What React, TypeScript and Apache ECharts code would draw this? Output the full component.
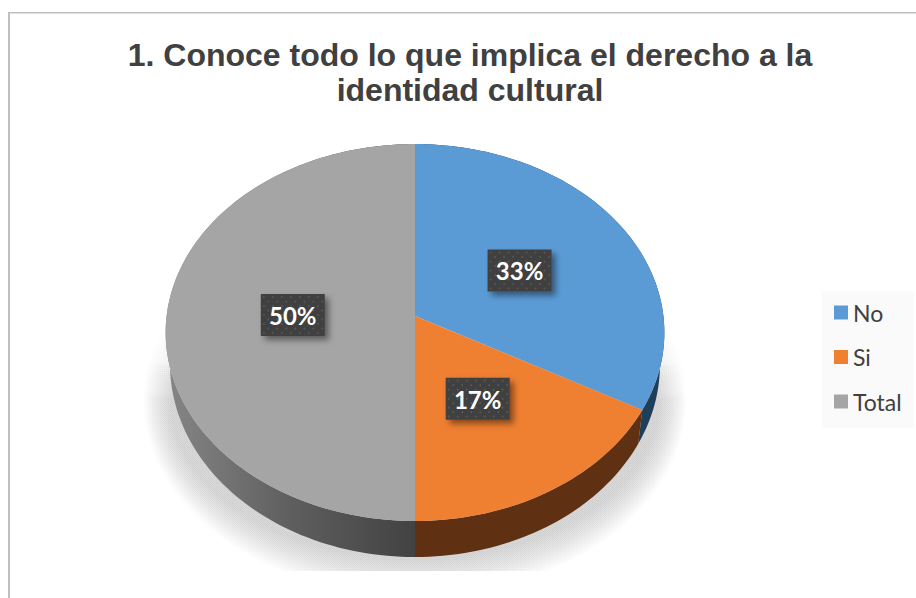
import React, { useEffect, useRef } from "react";
import * as echarts from "echarts";

const categories = ["No", "Si", "Total"];
const values = [33, 17, 50];
const topColors = ["#5B9BD5", "#EF7F31", "#A5A5A5"];
const wallColors = ["#1F3E5A", "#5F3112", "#555555"];
const titleText = "1. Conoce todo lo que implica el derecho a la\nidentidad cultural";

const total = values.reduce((a, b) => a + b, 0);
const starts = values.map((_, i) => values.slice(0, i).reduce((a, b) => a + b, 0) / total);

// perspective projection of the pie's disc
const CX = 415;
const K = 0.0876;
const topDisc = { a: 248.4, b: 187, c: 316 };
const lowDisc = { a: 244, b: 191, c: 347.7 };
const labelNudge = [[0, 1], [-3, -1], [2, -1]];

function project(disc: { a: number; b: number; c: number }, frac: number, r = 1): number[] {
  const t = frac * Math.PI * 2;
  const u = Math.sin(t) * r;
  const v = -Math.cos(t) * r;
  const w = 1 - K * v;
  return [CX + (disc.a * u) / w, disc.c + (disc.b * v) / w];
}

function arc(disc: { a: number; b: number; c: number }, from: number, to: number): number[][] {
  const n = Math.max(8, Math.round((to - from) * 240));
  const pts: number[][] = [];
  for (let i = 0; i <= n; i++) pts.push(project(disc, from + ((to - from) * i) / n));
  return pts;
}

function sliceRender(index: number) {
  return (_params: any, api: any) => {
    const value = api.value(0);
    const from = starts[index];
    const to = from + value / total;
    const children: any[] = [];
    const wallFill =
      index === 2
        ? new echarts.graphic.LinearGradient(
            170, 0, 415, 0,
            [
              { offset: 0, color: "#858585" },
              { offset: 0.5, color: "#5E5E5E" },
              { offset: 1, color: "#424242" },
            ],
            true
          )
        : wallColors[index];
    children.push({
      type: "polygon",
      z2: 6,
      shape: { points: [...arc(topDisc, from, to), ...arc(lowDisc, from, to).reverse()] },
      style: { fill: wallFill },
    });
    children.push({
      type: "polygon",
      z2: 10,
      shape: { points: [[CX, topDisc.c], ...arc(topDisc, from, to)] },
      style: { fill: topColors[index] },
    });
    const p = project(topDisc, (from + to) / 2, 0.5);
    const lx = p[0] + labelNudge[index][0];
    const ly = p[1] + labelNudge[index][1];
    const bx = lx - 32;
    const by = ly - 21;
    const bw = 64;
    const bh = 42;
    children.push({
      type: "rect",
      z2: 20,
      shape: { x: bx, y: by, width: bw, height: bh },
      style: {
        fill: "#404040",
        shadowBlur: 6,
        shadowOffsetX: 4,
        shadowOffsetY: 4,
        shadowColor: "rgba(0,0,0,0.45)",
      },
    });
    for (let row = 0; row < 9; row++) {
      for (let col = 0; col < 8; col++) {
        const dx = bx + 3 + col * 9 + (row % 2 ? 4.5 : 0);
        if (dx > bx + bw - 2) continue;
        children.push({
          type: "circle",
          z2: 21,
          shape: { cx: dx, cy: by + 3 + row * 4.5, r: 0.9 },
          style: { fill: "rgba(255,255,255,0.13)" },
        });
      }
    }
    children.push({
      type: "text",
      z2: 22,
      style: {
        x: lx,
        y: ly + 0.5,
        text: `${Math.round((value / total) * 100)}%`,
        fill: "#FFFFFF",
        font: "bold 24px Lato",
        align: "center",
        verticalAlign: "middle",
      },
    });
    return { type: "group", children };
  };
}

function shadowRender() {
  const layers = 18;
  const children: any[] = [];
  const fade = () =>
    new echarts.graphic.LinearGradient(
      0, 320, 0, 400,
      [
        { offset: 0, color: "rgba(0,0,0,0)" },
        { offset: 1, color: "rgba(0,0,0,0.011)" },
      ],
      true
    );
  for (let i = 0; i < layers; i++) {
    const t = i / (layers - 1);
    children.push({
      type: "ellipse",
      z2: 1,
      shape: { cx: CX, cy: 400, rx: 271 - 26 * t, ry: 196 - 36 * t },
      style: { fill: fade() },
    });
  }
  children.push({
    type: "rect",
    z2: 2,
    shape: { x: 11, y: 571, width: 800, height: 27 },
    style: { fill: "#FFFFFF" },
  });
  return { type: "group", children };
}

export default function App() {
  const ref = useRef<HTMLDivElement>(null);
  useEffect(() => {
    document.body.style.margin = "0";
    const chart = echarts.init(ref.current!, undefined, { renderer: "svg" });
    chart.setOption({
      animation: false,
      backgroundColor: "#FFFFFF",
      title: {
        text: titleText,
        left: 465,
        top: 32,
        textAlign: "center",
        textStyle: {
          fontFamily: "Liberation Sans",
          fontWeight: "bold",
          fontSize: 32,
          lineHeight: 35,
          color: "#404040",
        },
      },
      legend: {
        orient: "vertical",
        left: 822,
        top: 291,
        data: categories,
        icon: "rect",
        itemWidth: 14,
        itemHeight: 14,
        itemGap: 21.5,
        padding: [10, 12, 15, 12],
        backgroundColor: "#FAFAFA",
        selectedMode: false,
        textStyle: { fontFamily: "Lato", fontSize: 23, color: "#404040" },
      },
      graphic: [
        { type: "rect", shape: { x: 8, y: 12, width: 908, height: 1.5 }, style: { fill: "#BFBFBF" } },
        { type: "rect", shape: { x: 8, y: 12, width: 2, height: 586 }, style: { fill: "#BFBFBF" } },
      ],
      series: [
        {
          type: "custom",
          name: "shadow",
          coordinateSystem: "none",
          silent: true,
          data: [[0]],
          renderItem: shadowRender,
        },
        ...categories.map((name, i) => ({
          type: "custom",
          name,
          coordinateSystem: "none",
          silent: true,
          itemStyle: { color: topColors[i] },
          data: [[values[i]]],
          renderItem: sliceRender(i),
        })),
      ],
    });
    return () => chart.dispose();
  }, []);
  return <div ref={ref} style={{ position: "fixed", left: 0, top: 0, width: 916, height: 598 }} />;
}
